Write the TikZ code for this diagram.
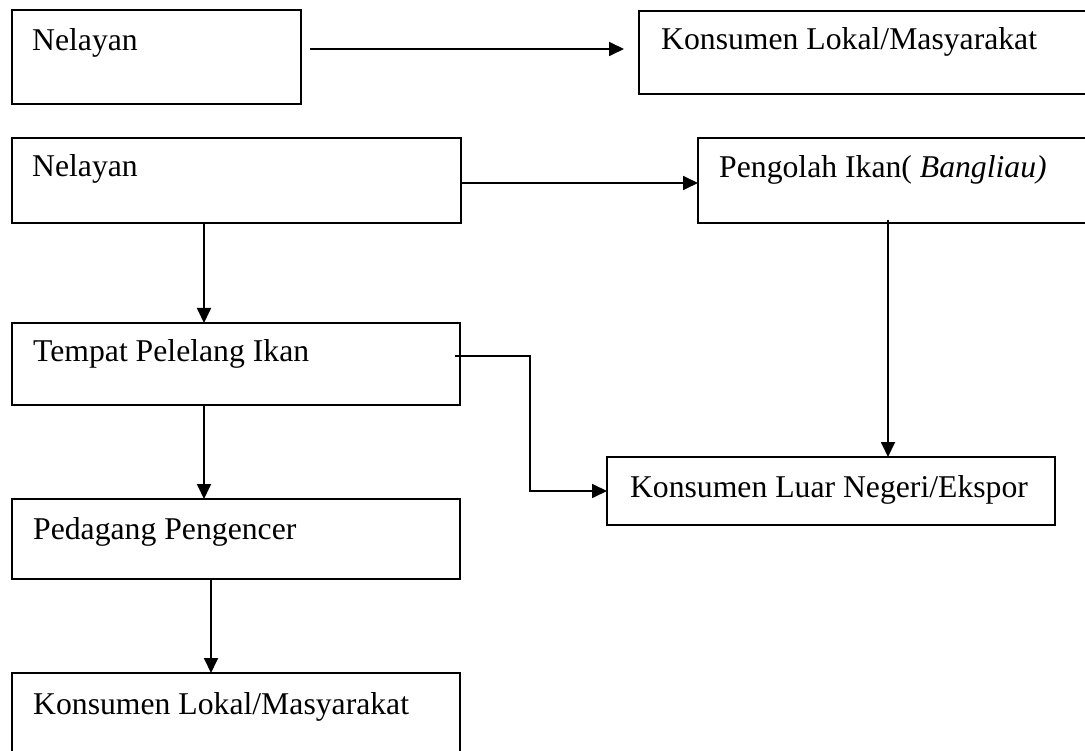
\documentclass[tikz,border=0pt]{standalone}
\usepackage{fontspec}
\setmainfont{Liberation Serif}
\usetikzlibrary{arrows.meta,calc}
\begin{document}
\begin{tikzpicture}[x=1pt,y=-1pt,
  box/.style={draw, line width=1.8pt, anchor=north west, inner sep=0pt, outer sep=0pt},
  lbl/.style={anchor=base west, inner sep=0pt, font=\fontsize{31.7}{38}\selectfont},
  arr/.style={line width=1.8pt, -{Triangle[length=15pt,width=14pt]}}]
\useasboundingbox (0,0) rectangle (1085,751);
\clip (0,0) rectangle (1085,751);
% boxes
\node[box, minimum width=289pt, minimum height=94pt] (b1) at (12,10) {};
\node[box, minimum width=460pt, minimum height=83pt] (b2) at (639,11) {};
\node[box, minimum width=449pt, minimum height=85pt] (b3) at (12,138) {};
\node[box, minimum width=400pt, minimum height=85pt] (b4) at (698,138) {};
\node[box, minimum width=448pt, minimum height=82pt] (b5) at (12,323) {};
\node[box, minimum width=448pt, minimum height=68pt] (b6) at (607,457) {};
\node[box, minimum width=448pt, minimum height=80pt] (b7) at (12,499) {};
\node[box, minimum width=448pt, minimum height=100pt] (b8) at (12,673) {};
% labels
\node[lbl] (t1) at ($(b1.north west)+(20,41)$) {Nelayan};
\node[lbl] (t2) at ($(b2.north west)+(22,39)$) {Konsumen Lokal/Masyarakat};
\node[lbl] (t3) at ($(b3.north west)+(20,39)$) {Nelayan};
\node[lbl] (t4) at ($(b4.north west)+(21,40)$) {Pengolah Ikan( \textit{Bangliau)}};
\node[lbl] (t5) at ($(b5.north west)+(21,39)$) {Tempat Pelelang Ikan};
\node[lbl, anchor=base] (t6) at ($(b6.north)+(-2,40)$) {Konsumen Luar Negeri/Ekspor};
\node[lbl] (t7) at ($(b7.north west)+(21,40)$) {Pedagang Pengencer};
\node[lbl] (t8) at ($(b8.north west)+(21,41)$) {Konsumen Lokal/Masyarakat};
% connectors
\coordinate (a1s) at ($(b1.north east)+(9,39)$);
\coordinate (a1e) at ($(b2.north west)+(-15,38)$);
\draw[arr] (a1s) -- (a1e);
\draw[arr] (b3.east |- 0,183) -- (b4.west |- 0,183);
\draw[arr] (204,0 |- b3.south) -- (204,0 |- b5.north);
\draw[arr] (204,0 |- b5.south) -- (204,0 |- b7.north);
\draw[arr] (211,0 |- b7.south) -- (211,0 |- b8.north);
\coordinate (a6s) at ($(b5.north east)+(-5,33)$);
\draw[arr] (a6s) -- (530,0 |- a6s) -- (530,0 |- b6.west) -- (b6.west);
\coordinate (a7s) at ($(b4.south -| 888,0)+(0,-3)$);
\draw[arr] (a7s) -- (b6.north -| a7s);
\end{tikzpicture}
\end{document}
